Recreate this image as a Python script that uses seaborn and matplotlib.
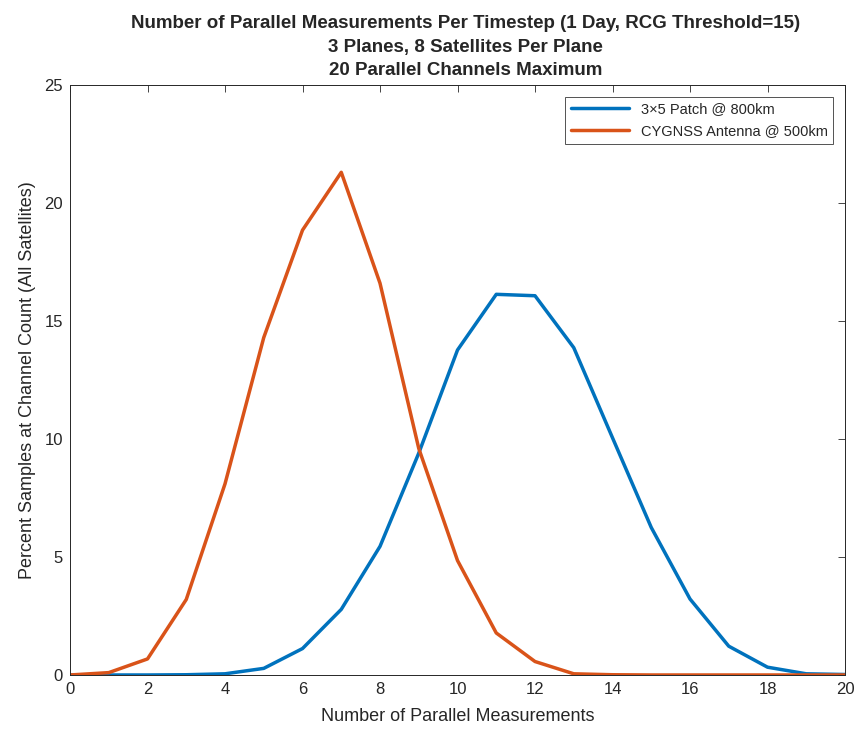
import numpy as np
import pandas as pd
import matplotlib.pyplot as plt
import seaborn as sns

# channel counts 0..20
channels = list(range(21))

# percent of samples at each channel count
patch_800km = [0.0, 0.0, 0.0, 0.01, 0.05, 0.28, 1.12, 2.78, 5.45, 9.4, 13.77,
               16.13, 16.07, 13.87, 10.05, 6.25, 3.22, 1.22, 0.33, 0.05, 0.02]
cygnss_500km = [0.0, 0.1, 0.68, 3.2, 8.1, 14.3, 18.85, 21.3, 16.6, 9.6, 4.85,
                1.78, 0.57, 0.05, 0.01, 0.0, 0.0, 0.0, 0.0, 0.0, 0.0]

series_names = ["3\u00d75 Patch @ 800km", "CYGNSS Antenna @ 500km"]
colors = ["#0072BD", "#D95319"]

df = pd.DataFrame({
    "channels": channels * 2,
    "percent": patch_800km + cygnss_500km,
    "series": [series_names[0]] * 21 + [series_names[1]] * 21,
})

sns.set_style("white")
plt.rcParams["font.family"] = ["Liberation Sans", "DejaVu Sans"]

fig = plt.figure(figsize=(8.57, 7.29), dpi=100)
ax = fig.add_axes([0.0817, 0.0741, 0.9043, 0.8093])

sns.lineplot(data=df, x="channels", y="percent", hue="series",
             palette=colors, linewidth=2.5, ax=ax)

ax.set_xlim(0, 20)
ax.set_ylim(0, 25)
ax.set_xticks(range(0, 21, 2))
ax.set_yticks(range(0, 26, 5))
ax.tick_params(direction="in", top=True, right=True, length=5, width=0.6,
               labelsize=12, colors="#262626", pad=5)
for s in ax.spines.values():
    s.set_visible(True)
    s.set_color("#262626")
    s.set_linewidth(0.7)

ax.set_xlabel("Number of Parallel Measurements", fontsize=13, color="#262626",
              labelpad=8)
ax.set_ylabel("Percent Samples at Channel Count (All Satellites)", fontsize=13,
              color="#262626", labelpad=6)
ax.set_title("Number of Parallel Measurements Per Timestep (1 Day, RCG Threshold=15)\n"
             "3 Planes, 8 Satellites Per Plane\n"
             "20 Parallel Channels Maximum",
             fontsize=13.5, fontweight="bold", linespacing=1.5, pad=7, x=0.51)

leg = ax.legend(loc="upper right", fontsize=10.5, frameon=True, fancybox=False,
                handlelength=4.0, borderaxespad=0.8, title=None)
leg.get_frame().set_edgecolor("#262626")
leg.get_frame().set_linewidth(0.7)

fig.savefig("out.png", dpi=100)
